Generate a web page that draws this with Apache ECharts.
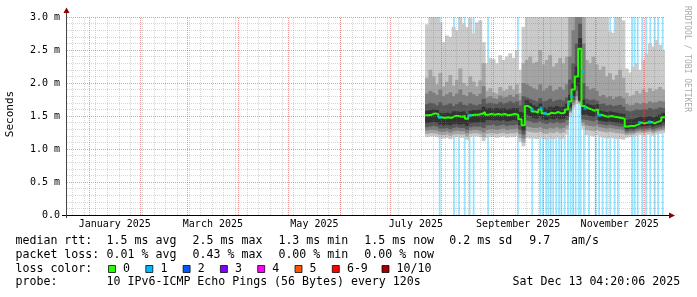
<!DOCTYPE html>
<html>
<head>
<meta charset="utf-8">
<script src="https://cdn.jsdelivr.net/npm/echarts@6/dist/echarts.min.js"></script>
<style>
html,body{margin:0;padding:0;background:#fff;}
#chart{width:697px;height:297px;}
</style>
</head>
<body>
<div id="chart"></div>
<script>
// ---------- time base: days since 2025-01-01 ----------
const X_MIN = -13.2;          // ~ 2024-12-18
const X_MAX = 346.2;          // 2025-12-13 04:20
const START_DAY = 202;        // first smoke column (~ 2025-07-21)
const STEP_DAYS = 2;          // width of each smoke column
const END_DAY = 346.18;

// x axis labels (centred mid-month) and grid positions
const xLabelDays  = [15.5, 74.5, 135.5, 196.5, 258, 319];
const xLabelTexts = ['January 2025', 'March 2025', 'May 2025', 'July 2025', 'September 2025', 'November 2025'];
const monthStartDays = [0, 31, 59, 90, 120, 151, 181, 212, 243, 273, 304, 334];
const firstWeekLine = 4;      // Sunday 2025-01-05

// y axis tick labels (ms)
const yTickValues = [0, 0.5, 1.0, 1.5, 2.0, 2.5, 3.0];
const yTickTexts  = ['0.0', '0.5 m', '1.0 m', '1.5 m', '2.0 m', '2.5 m', '3.0 m'];

// ---------- smoke: sorted pings p1 (lowest) .. p10 (highest), ms, one value per 2-day column ----------
const p10 = [2.89,3.2,3.2,3.2,2.92,2.62,2.72,2.7,2.85,2.8,3.2,2.9,2.85,2.98,2.75,2.92,2.95,2.62,
  2.3,2.38,2.36,2.3,2.42,2.35,2.4,2.45,2.38,2.5,2.2,2.85,
  3.2,3.2,3.2,3.2,3.2,3.2,3.2,3.2,3.2,3.2,3.2,3.2,3.2,
  3.2,3.2,3.2,3.2,3.2,
  3.2,3.2,3.2,3.2,
  3.2,3.2,3.1,2.78,2.76,3.2,3.1,2.95,
  2.22,2.16,2.25,2.3,2.2,2.35,2.45,2.6,2.55,2.65,2.58,2.5];
const p9 = [2.08,2.2,2.1,1.98,2.15,1.95,2.02,2.12,1.96,2.05,2.22,2.0,1.96,2.1,2.02,1.95,2.04,2.3,
  1.88,1.92,1.86,1.84,1.94,1.88,1.9,1.96,1.9,1.98,1.85,2.3,
  2.35,2.4,2.3,2.32,2.5,2.28,2.35,2.42,2.25,2.3,2.38,2.3,2.4,
  3.2,3.2,3.2,3.2,3.2,
  2.35,2.3,2.4,2.28,
  2.2,2.25,2.1,2.15,2.05,2.12,2.2,2.08,
  1.85,1.8,1.82,1.88,1.84,1.9,1.86,1.92,1.88,1.9,1.94,1.9];
const p8 = [1.84,1.88,1.85,1.82,1.9,1.8,1.83,1.86,1.8,1.84,1.9,1.82,1.8,1.86,1.83,1.8,1.84,1.95,
  1.78,1.8,1.77,1.76,1.81,1.78,1.79,1.82,1.79,1.83,1.74,2.0,
  1.98,1.95,1.92,1.9,1.98,1.88,1.92,1.96,1.88,1.9,1.94,1.9,1.98,
  2.4,2.8,3.2,3.2,2.6,
  1.95,1.9,1.92,1.88,
  1.8,1.82,1.78,1.8,1.76,1.79,1.8,1.77,
  1.68,1.66,1.67,1.7,1.68,1.7,1.69,1.72,1.7,1.71,1.73,1.72];
const p7 = [1.68,1.7,1.69,1.66,1.71,1.66,1.67,1.69,1.65,1.68,1.71,1.67,1.66,1.69,1.67,1.66,1.68,1.76,
  1.69,1.7,1.69,1.68,1.71,1.69,1.7,1.72,1.7,1.72,1.66,1.8,
  1.78,1.76,1.74,1.72,1.77,1.72,1.73,1.76,1.72,1.74,1.75,1.73,1.78,
  2.05,2.3,2.6,2.9,2.0,
  1.76,1.74,1.75,1.73,
  1.68,1.69,1.66,1.67,1.65,1.66,1.67,1.64,
  1.58,1.57,1.58,1.6,1.59,1.6,1.6,1.62,1.6,1.61,1.63,1.62];
const p6 = [1.58,1.59,1.6,1.59,1.55,1.54,1.55,1.54,1.57,1.57,1.56,1.57,1.53,1.58,1.59,1.59,1.6,1.64,
  1.61,1.62,1.61,1.62,1.61,1.62,1.6,1.61,1.62,1.62,1.56,1.55,
  1.74,1.7,1.66,1.64,1.69,1.63,1.61,1.64,1.63,1.65,1.63,1.64,1.69,
  1.82,2.0,2.25,2.68,1.75,
  1.69,1.67,1.66,1.68,
  1.58,1.57,1.56,1.57,1.56,1.55,1.54,1.53,
  1.44,1.45,1.45,1.47,1.49,1.48,1.49,1.5,1.48,1.5,1.52,1.55];
const p5 = [1.39,1.4,1.41,1.4,1.37,1.36,1.37,1.36,1.38,1.38,1.37,1.38,1.35,1.39,1.4,1.4,1.41,1.4,
  1.44,1.44,1.43,1.44,1.43,1.44,1.42,1.43,1.44,1.43,1.36,1.28,
  1.52,1.5,1.47,1.46,1.49,1.45,1.44,1.46,1.45,1.47,1.45,1.46,1.5,
  1.64,1.8,1.96,1.74,1.52,
  1.52,1.5,1.49,1.51,
  1.43,1.42,1.41,1.42,1.41,1.4,1.39,1.38,
  1.3,1.31,1.31,1.33,1.35,1.34,1.35,1.36,1.34,1.36,1.37,1.4];
const p4 = [1.33,1.34,1.35,1.34,1.31,1.31,1.32,1.3,1.32,1.33,1.32,1.32,1.29,1.33,1.34,1.34,1.34,1.32,
  1.36,1.36,1.37,1.35,1.36,1.37,1.35,1.36,1.36,1.37,1.29,1.22,
  1.43,1.42,1.4,1.4,1.42,1.39,1.38,1.4,1.39,1.41,1.39,1.4,1.44,
  1.6,1.74,1.88,1.72,1.45,
  1.44,1.43,1.42,1.44,
  1.38,1.37,1.36,1.37,1.36,1.35,1.34,1.34,
  1.27,1.28,1.28,1.3,1.31,1.3,1.31,1.32,1.3,1.32,1.33,1.35];
const p3 = [1.28,1.29,1.29,1.28,1.26,1.26,1.27,1.25,1.27,1.28,1.27,1.27,1.24,1.28,1.29,1.29,1.28,1.25,
  1.29,1.3,1.3,1.29,1.3,1.31,1.29,1.3,1.3,1.31,1.23,1.16,
  1.34,1.33,1.32,1.32,1.33,1.31,1.3,1.32,1.31,1.33,1.31,1.32,1.36,
  1.57,1.7,1.8,1.71,1.4,
  1.36,1.35,1.34,1.36,
  1.33,1.32,1.31,1.32,1.31,1.3,1.3,1.29,
  1.24,1.25,1.25,1.27,1.28,1.27,1.28,1.29,1.27,1.29,1.3,1.31];
const p2 = [1.23,1.24,1.24,1.23,1.21,1.21,1.22,1.2,1.22,1.23,1.22,1.22,1.19,1.23,1.24,1.24,1.23,1.18,
  1.23,1.24,1.24,1.23,1.24,1.25,1.23,1.24,1.24,1.25,1.17,1.1,
  1.27,1.26,1.25,1.25,1.26,1.24,1.23,1.25,1.24,1.26,1.24,1.25,1.3,
  1.55,1.66,1.74,1.7,1.35,
  1.29,1.28,1.27,1.29,
  1.27,1.26,1.25,1.26,1.25,1.24,1.24,1.23,
  1.21,1.22,1.22,1.24,1.25,1.24,1.25,1.26,1.24,1.26,1.27,1.28];
const p1 = [1.18,1.19,1.19,1.18,1.16,1.16,1.17,1.15,1.17,1.18,1.17,1.17,1.14,1.18,1.19,1.19,1.18,1.12,
  1.17,1.18,1.18,1.17,1.18,1.19,1.17,1.18,1.18,1.19,1.11,1.04,
  1.17,1.16,1.16,1.15,1.17,1.15,1.14,1.16,1.15,1.17,1.15,1.16,1.22,
  1.5,1.62,1.68,1.67,1.3,
  1.21,1.2,1.19,1.21,
  1.18,1.17,1.16,1.17,1.16,1.15,1.15,1.14,
  1.17,1.18,1.18,1.2,1.21,1.2,1.21,1.22,1.2,1.22,1.23,1.24];

// median rtt (ms), same columns
const medianRtt = [1.51,1.52,1.54,1.53,1.48,1.47,1.48,1.47,1.5,1.5,1.49,1.5,1.46,1.51,1.52,1.52,1.53,1.56,
  1.52,1.53,1.52,1.53,1.52,1.53,1.51,1.52,1.53,1.52,1.45,1.36,
  1.65,1.62,1.57,1.55,1.6,1.54,1.52,1.55,1.54,1.56,1.54,1.55,1.6,
  1.72,1.9,2.1,2.52,1.65,
  1.62,1.6,1.58,1.6,
  1.52,1.5,1.49,1.5,1.49,1.48,1.47,1.46,
  1.34,1.35,1.35,1.37,1.4,1.39,1.4,1.41,1.39,1.41,1.43,1.48];

// median points drawn in the "1 lost" colour
const lossMedianDays = [210.8, 228.8, 266.4, 271.8, 274.2, 288.3, 290.1, 296.7, 298.2, 306.9, 330.9, 336.9];
const lossMedianVals = [1.48, 1.51, 1.6, 1.62, 1.54, 1.68, 1.8, 2.17, 1.62, 1.51, 1.4, 1.41];

// days with packet loss (loss bars)
const lossDays = [210.8, 219.4, 222.4, 225.8, 228.8, 231.2, 239.9, 257.8, 266.4, 271.2, 272.8, 274.8,
  276.1, 277.5, 279.0, 280.8, 282.5, 283.9, 285.9, 287.9, 289.5, 290.9, 292.5, 294.3, 295.5, 297.5,
  300.5, 304.5, 306.6, 308.7, 311.1, 313.3, 315.9, 317.9, 326.6, 328.0, 329.8, 332.5, 334.9, 337.4,
  340.0, 342.1, 344.8];

// legend texts
const medianStats = ['1.5 ms avg', '2.5 ms max', '1.3 ms min', '1.5 ms now', '0.2 ms sd', '9.7', 'am/s'];
const lossStats   = ['0.01 % avg', '0.43 % max', '0.00 % min', '0.00 % now'];
const lossLabels  = ['0', '1', '2', '3', '4', '5', '6-9', '10/10'];
const lossColors  = ['#26ff00', '#00b8ff', '#0059ff', '#7e00ff', '#ff00ff', '#ff5500', '#ff0000', '#a10000'];
const probeText   = '10 IPv6-ICMP Echo Pings (56 Bytes) every 120s';
const stampText   = 'Sat Dec 13 04:20:06 2025';

// ---------- build ----------
const FONT = '"DejaVu Sans Mono", monospace';
const colDays = p1.map((_, i) => START_DAY + STEP_DAYS * i);
const colEnds = colDays.map((d, i) => i === colDays.length - 1 ? END_DAY : colDays[i + 1]);
function stepData(vals) {
  const d = vals.map((v, i) => [colDays[i], v]);
  d.push([END_DAY, vals[vals.length - 1]]);
  return d;
}

const series = [];
const weekDays = [];
for (let d = firstWeekLine - 28; d <= X_MAX; d += 7) if (d >= X_MIN) weekDays.push(d);
const minorColor = 'rgba(120,120,120,0.3)';
const majorColor = 'rgba(225,70,70,0.55)';
// loss bars (behind the smoke) + vertical grid as markLines (drawn above)
series.push({
  type: 'bar',
  data: lossDays.map(d => [d, 3.0]),
  barWidth: 1.8,
  itemStyle: { color: 'rgba(0,184,255,0.4)' },
  silent: true,
  z: 1,
  markLine: {
    silent: true,
    symbol: ['none', 'none'],
    label: { show: false },
    emphasis: { disabled: true },
    animation: false,
    data: weekDays.map(d => ({ xAxis: d, lineStyle: { color: minorColor, type: [1, 1], width: 1 } }))
      .concat(monthStartDays.map(d => ({ xAxis: d, lineStyle: { color: majorColor, type: [1, 1], width: 1 } })))
  }
});

// smoke bands: custom series, one rectangle per column between lower and upper ping
const bands = [[p1, p10, '#cacaca'], [p2, p9, '#a4a4a4'], [p3, p8, '#7e7e7e'], [p4, p7, '#585858'], [p5, p6, '#323232']];
bands.forEach(([lo, hi, color]) => {
  series.push({
    type: 'custom', silent: true, z: 2, clip: true,
    encode: { x: [0, 1], y: [2, 3] },
    data: lo.map((v, i) => [colDays[i], colEnds[i], v, hi[i]]),
    renderItem: function (params, api) {
      const a = api.coord([api.value(0), api.value(3)]);
      const b = api.coord([api.value(1), api.value(2)]);
      return {
        type: 'rect',
        shape: { x: a[0], y: a[1], width: b[0] - a[0] + 0.6, height: b[1] - a[1] },
        style: { fill: color }
      };
    }
  });
});

series.push({
  type: 'line', step: 'end', symbol: 'none', silent: true, z: 3,
  data: stepData(medianRtt),
  lineStyle: { color: lossColors[0], width: 2 }
});
series.push({
  type: 'scatter', silent: true, z: 3,
  symbol: 'rect', symbolSize: [3, 3],
  data: lossMedianDays.map((d, i) => [d, lossMedianVals[i]]),
  itemStyle: { color: lossColors[1] }
});

// ---------- decorations ----------
const graphics = [];
function txt(x, y, s, size, opts) {
  return Object.assign({
    type: 'text', x: x, y: y, z: 100, silent: true,
    style: { text: s, font: size + 'px ' + FONT, fill: '#000', textAlign: 'left', textVerticalAlign: 'middle', align: 'left', verticalAlign: 'middle' }
  }, opts || {});
}
graphics.push({ type: 'line', z: 100, silent: true, shape: { x1: 62, y1: 215.5, x2: 669, y2: 215.5 }, style: { stroke: '#000', lineWidth: 1 } });
graphics.push({ type: 'line', z: 100, silent: true, shape: { x1: 66.5, y1: 218, x2: 66.5, y2: 12 }, style: { stroke: '#444', lineWidth: 1 } });
graphics.push({ type: 'polygon', z: 101, silent: true, shape: { points: [[66.5, 7.5], [63.5, 13], [69.5, 13]] }, style: { fill: '#8b0000' } });
graphics.push({ type: 'polygon', z: 101, silent: true, shape: { points: [[675, 215.5], [669, 212.5], [669, 218.5]] }, style: { fill: '#8b0000' } });
const ySeconds = txt(10.5, 114, 'Seconds', 11, { rotation: Math.PI / 2 });
ySeconds.style.textAlign = 'center'; ySeconds.style.align = 'center';
graphics.push(ySeconds);
const wm = txt(687.5, 59, 'RRDTOOL / TOBI OETIKER', 8, { rotation: -Math.PI / 2 });
wm.style.textAlign = 'center'; wm.style.align = 'center'; wm.style.fill = '#aaaaaa';
graphics.push(wm);

const LF = 11.6;
const rows = [241, 254.8, 268.6, 282.4];
const colX = [106.6, 192.6, 278.4, 364.3, 449.3, 529.3, 571.0];
graphics.push(txt(15.5, rows[0], 'median rtt:', LF));
medianStats.forEach((s, i) => graphics.push(txt(colX[i], rows[0], s, LF)));
graphics.push(txt(15.5, rows[1], 'packet loss:', LF));
lossStats.forEach((s, i) => graphics.push(txt(colX[i], rows[1], s, LF)));
graphics.push(txt(15.5, rows[2], 'loss color:', LF));
const boxX = [108.5, 145.8, 183.1, 220.4, 257.7, 295.0, 332.3, 382.0];
lossLabels.forEach((s, i) => {
  graphics.push({ type: 'rect', z: 100, silent: true, shape: { x: boxX[i], y: 265.5, width: 7, height: 7 },
    style: { fill: lossColors[i], stroke: 'rgba(0,0,0,0.75)', lineWidth: 1 } });
  graphics.push(txt(boxX[i] + 14.6, rows[2], s, LF));
});
graphics.push(txt(15.5, rows[3], 'probe:', LF));
graphics.push(txt(106.6, rows[3], probeText, LF));
graphics.push(txt(512.6, rows[3], stampText, LF));

const chart = echarts.init(document.getElementById('chart'), null, { renderer: 'canvas', width: 697, height: 297 });
chart.setOption({
  animation: false,
  backgroundColor: '#ffffff',
  grid: { left: 67, top: 17, width: 598, height: 198, containLabel: false },
  xAxis: {
    type: 'value', min: X_MIN, max: X_MAX,
    axisLine: { show: false }, axisTick: { show: false }, splitLine: { show: false },
    axisLabel: {
      customValues: xLabelDays,
      margin: 4, fontFamily: FONT, fontSize: 10, color: '#000',
      formatter: v => { const i = xLabelDays.findIndex(d => Math.abs(d - v) < 0.01); return i >= 0 ? xLabelTexts[i] : ''; }
    }
  },
  yAxis: {
    type: 'value', min: 0, max: 3, interval: 0.5, z: 4,
    axisLine: { show: false },
    axisTick: { show: false },
    axisLabel: {
      margin: 7, fontFamily: FONT, fontSize: 10, color: '#000',
      formatter: v => { const i = yTickValues.findIndex(t => Math.abs(t - v) < 1e-6); return i >= 0 ? yTickTexts[i] : ''; }
    },
    splitLine: { show: true, lineStyle: { color: majorColor, type: [1, 1], width: 1 } },
    minorTick: { show: false, splitNumber: 5 },
    minorSplitLine: { show: true, lineStyle: { color: minorColor, type: [1, 1], width: 1 } }
  },
  series: series,
  graphic: { elements: graphics }
});
</script>
</body>
</html>
